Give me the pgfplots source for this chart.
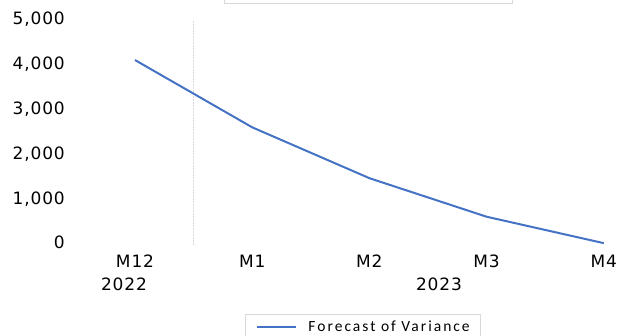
\documentclass[border=0pt]{standalone}
\usepackage{fontspec}
\setmainfont{Carlito}
\newfontfamily\tickfont[LetterSpace=5]{DejaVu Sans}
\newfontfamily\legfont[LetterSpace=13]{Carlito}
\usepackage{pgfplots}
\pgfplotsset{compat=1.18}
\definecolor{seriesblue}{RGB}{68,114,196}
\definecolor{framegray}{RGB}{217,217,217}

\begin{document}
\begin{tikzpicture}[x=1pt,y=1pt]
\useasboundingbox (0,0) rectangle (621,335);
% header box, partly above the page
\draw[framegray, line width=1pt] (224,331.7) rectangle (512,345);
\begin{axis}[
  at={(76.4pt,89.6pt)}, anchor=south west,
  scale only axis, width=539.1pt, height=227.1pt,
  xmin=-0.5, xmax=4.1, ymin=-60, ymax=5000,
  axis line style={draw=none},
  major tick length=0pt,
  xtick={0,1,2,3,4},
  xticklabels={M12,M1,M2,M3,M4},
  ytick={0,1000,2000,3000,4000,5000},
  scaled y ticks=false,
  /pgf/number format/.cd, 1000 sep={,}, assume math mode=true,
  /pgfplots/.cd,
  yticklabel style={font=\fontsize{17}{20}\tickfont, anchor=base east, inner sep=0pt, xshift=-11.4pt, yshift=-6.2pt},
  xticklabel style={font=\fontsize{17}{20}\tickfont, anchor=base, inner sep=0pt, yshift=-21.6pt},
  clip=false,
  legend image code/.code={\draw[#1, line width=2pt] (0pt,0pt) -- (39pt,0pt);},
  legend style={at={(0.3127,-0.302)}, anchor=north west, draw=framegray, line width=1pt,
    font=\fontsize{15.5}{17}\legfont, inner xsep=11pt, inner ysep=6pt,
    column sep=11pt, nodes={inner sep=0pt}},
]
% year separator
\draw[framegray, line width=1pt, dash pattern=on 2pt off 1pt] (axis cs:0.5,-60) -- (axis cs:0.5,4950);
\addplot[seriesblue, line width=2pt] coordinates {
  (0,4070) (1,2571) (2,1438) (3,579) (4,-10)
};
\addlegendentry{Forecast of Variance}
% year labels under the month labels
\node[font=\fontsize{17}{20}\tickfont, inner sep=0pt, anchor=base] at ([yshift=-44.8pt]axis cs:-0.094,-60) {2022};
\node[font=\fontsize{17}{20}\tickfont, inner sep=0pt, anchor=base] at ([yshift=-44.8pt]axis cs:2.594,-60) {2023};
\end{axis}
\end{tikzpicture}
\end{document}
